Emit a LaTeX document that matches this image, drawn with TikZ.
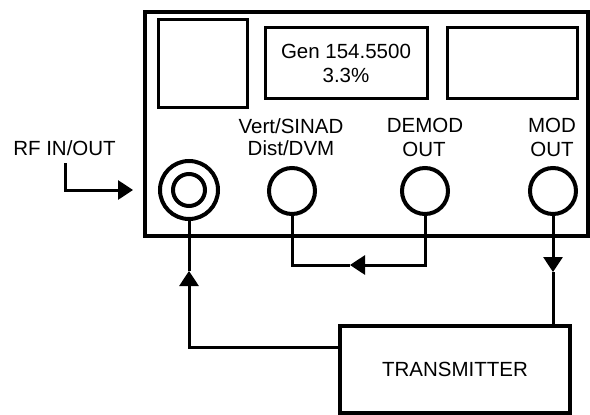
\documentclass[tikz,border=0pt]{standalone}
\usepackage{fontspec}
\setmainfont{Liberation Sans}
\usetikzlibrary{arrows.meta}
\begin{document}
\begin{tikzpicture}[x=1pt,y=-1pt,
  frame/.style={draw,line width=3.2pt},
  screen/.style={draw,line width=3pt},
  jack/.style={draw,circle,line width=4pt,inner sep=0pt},
  conn/.style={line width=3pt},
  tip/.style={-{Triangle[length=15pt,width=19pt]}},
  lbl/.style={anchor=base,inner sep=0pt,font=\fontsize{20.5}{24}\selectfont},
]
\useasboundingbox (0,0) rectangle (590,415);
% main instrument
\node[frame,minimum width=443pt,minimum height=224pt,inner sep=0pt] (panel) at (366.5,124) {};
\node[screen,minimum width=89pt,minimum height=88pt,inner sep=0pt] (s1) at (202.5,63) {};
\node[screen,minimum width=162pt,minimum height=71pt,inner sep=0pt] (s2) at (346,62.5) {};
\node[screen,minimum width=130pt,minimum height=71pt,inner sep=0pt] (s3) at (512,62.5) {};
\node[lbl] (g1) at (346,59) {Gen 154.5500};
\node[lbl] (g2) at (346,82) {3.3\%};
% jacks
\node[jack,minimum size=58pt] (c1) at (189,190) {};
\node[jack,minimum size=32pt] (c1i) at (189,190) {};
\node[jack,minimum size=46pt] (c2) at (292,191) {};
\node[jack,minimum size=46pt] (c3) at (425,191) {};
\node[jack,minimum size=46pt] (c4) at (553,191) {};
% labels
\node[lbl] (rf) at (64.5,155) {RF IN/OUT};
\node[lbl] (l2a) at (291,133) {Vert/SINAD};
\node[lbl] (l2b) at (291,155) {Dist/DVM};
\node[lbl] (l3a) at (425,132) {DEMOD};
\node[lbl] (l3b) at (424,156) {OUT};
\node[lbl] (l4a) at (552,132) {MOD};
\node[lbl] (l4b) at (552,156) {OUT};
% transmitter
\node[frame,minimum width=230pt,minimum height=87pt,inner sep=0pt,
  font=\fontsize{20.5}{24}\selectfont] (tx) at (455,369.5) {TRANSMITTER};
% RF arrow
\coordinate (rfa) at (65,163);
\coordinate (rfb) at (133,190);
\draw[conn,tip] (rfa) |- (rfb);
% RF connection from transmitter
\coordinate (a1) at (189,271);
\draw[conn,tip] ([yshift=22.5pt]tx.west) -| (a1);
\draw[conn] (a1) -- (c1.south);
% demod to vert/sinad
\coordinate (a2) at (350,265);
\draw[conn,tip] (c3.south) |- (a2);
\draw[conn] (a2) -| (c2.south);
% mod out to transmitter
\coordinate (a3) at (553,272);
\draw[conn,tip] (c4.south) -- (a3);
\draw[conn] (a3) -- (c4.south |- tx.north);
\end{tikzpicture}
\end{document}
